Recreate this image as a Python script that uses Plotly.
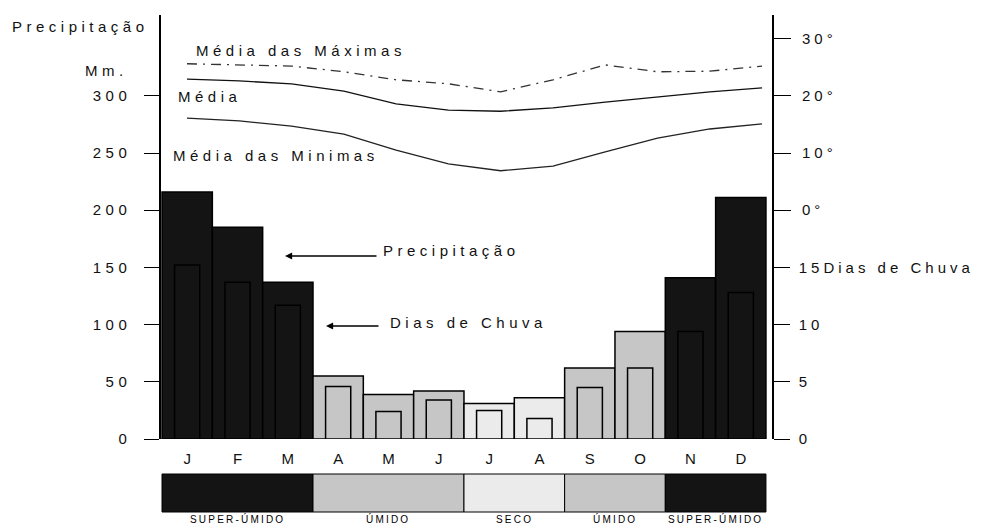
import plotly.graph_objects as go

# ---------------- data ----------------
month_labels = ["J", "F", "M", "A", "M", "J", "J", "A", "S", "O", "N", "D"]
precip_mm = [216, 185, 137, 55, 39, 42, 31, 36, 62, 94, 141, 211]
rain_days = [15.2, 13.7, 11.7, 4.6, 2.4, 3.4, 2.5, 1.8, 4.5, 6.2, 9.4, 12.8]
t_max = [25.6, 25.4, 25.2, 24.2, 22.8, 22.1, 20.7, 22.8, 25.4, 24.2, 24.3, 25.2]
t_mean = [22.9, 22.6, 22.1, 20.8, 18.6, 17.5, 17.3, 17.9, 18.9, 19.8, 20.7, 21.4]
t_min = [16.1, 15.6, 14.7, 13.3, 10.5, 8.1, 6.9, 7.7, 10.2, 12.6, 14.2, 15.1]
humidity_class = ["SUPER-ÚMIDO"] * 3 + ["ÚMIDO"] * 3 + ["SECO"] * 2 + ["ÚMIDO"] * 2 + ["SUPER-ÚMIDO"] * 2

precip_ticks = [0, 50, 100, 150, 200, 250, 300]
days_ticks = [0, 5, 10, 15]
days_tick_text = ["0", "5", "10", "15Dias de Chuva"]
temp_ticks = [0, 10, 20, 30]

class_colors = {"SUPER-ÚMIDO": "#141414", "ÚMIDO": "#c6c6c6", "SECO": "#ebebeb"}

# ---------------- layout geometry (screen pixels; page body has an 8px offset) ----------------
FONT = "Liberation Sans, Arial, sans-serif"
OFF = 8
L, R, T, B = 161, 772, 15, 439
W, H = 990 - OFF, 525 - OFF
MM_TOP = (B - T) / 1.144          # mm value at top of plot
DAYS_TOP = MM_TOP / 10            # days axis = mm / 10
TEMP_LO, TEMP_HI = -40, (MM_TOP - 200) / 5   # temperature axis: mm = 200 + 5*T


def px(p):
    return (p - L) / (R - L)


def py(p):
    return (B - p) / (B - T)


def sp(t, s=4.5):
    return f'<span style="letter-spacing:{s}px">{t}</span>'


x = list(range(len(month_labels)))
bar_colors = [class_colors[c] for c in humidity_class]

fig = go.Figure()

fig.add_trace(go.Bar(
    x=x, y=precip_mm, width=1.0, marker=dict(color=bar_colors, line=dict(color="black", width=1.5)),
    yaxis="y", xaxis="x", showlegend=False, hoverinfo="skip"))

fig.add_trace(go.Bar(
    x=x, y=rain_days, width=0.5, marker=dict(color=bar_colors, line=dict(color="black", width=1.5)),
    yaxis="y2", xaxis="x", showlegend=False, hoverinfo="skip"))

fig.add_trace(go.Scatter(
    x=x, y=t_max, mode="lines", line=dict(color="#333333", width=1.3, dash="10px,6px,2px,6px"),
    xaxis="x2", yaxis="y3", showlegend=False, hoverinfo="skip"))
fig.add_trace(go.Scatter(
    x=x, y=t_mean, mode="lines", line=dict(color="#111111", width=1.3),
    xaxis="x2", yaxis="y3", showlegend=False, hoverinfo="skip"))
fig.add_trace(go.Scatter(
    x=x, y=t_min, mode="lines", line=dict(color="#222222", width=1.3),
    xaxis="x2", yaxis="y3", showlegend=False, hoverinfo="skip"))

shapes = []
annotations = []

# bottom humidity band built from the monthly classes
segments = []
start = 0
for i in range(1, len(humidity_class) + 1):
    if i == len(humidity_class) or humidity_class[i] != humidity_class[start]:
        segments.append((start, i - 1, humidity_class[start]))
        start = i
for s, e, c in segments:
    shapes.append(dict(type="rect", xref="x", yref="paper", x0=s - 0.5, x1=e + 0.5,
                       y0=py(512), y1=py(474), fillcolor=class_colors[c],
                       line=dict(color="black", width=1)))
    annotations.append(dict(xref="x", yref="paper", x=(s + e) / 2, y=py(519), text=sp(c, 2.2),
                            showarrow=False, font=dict(size=10, family=FONT, color="black"),
                            xanchor="center", yanchor="middle"))

texts = [
    ("Precipitação", 10, 27),
    ("Mm.", 83, 70),
    ("Média das Máximas", 194, 51),
    ("Média", 176, 96),
    ("Média das Minimas", 171, 155),
    ("Precipitação", 381, 250),
    ("Dias de Chuva", 388, 322),
]
for t, xx, yy in texts:
    annotations.append(dict(xref="paper", yref="paper", x=px(xx), y=py(yy), text=sp(t),
                            showarrow=False, xanchor="left", yanchor="middle",
                            font=dict(size=15, family=FONT, color="#111111")))

for hx, hy, tail in [(285, 256, 378), (326, 326, 380)]:
    annotations.append(dict(xref="paper", yref="paper", x=px(hx), y=py(hy), text="",
                            showarrow=True, axref="pixel", ayref="pixel", ax=tail - hx, ay=0,
                            arrowhead=2, arrowsize=1.1, arrowwidth=1.3, arrowcolor="black",
                            standoff=0, startstandoff=0))

tickfont = dict(size=15, family=FONT, color="#111111")

fig.update_layout(
    width=W, height=H,
    margin=dict(l=L - OFF, r=W - (R - OFF), t=T - OFF, b=H - (B - OFF), pad=0),
    paper_bgcolor="white", plot_bgcolor="white",
    barmode="overlay",
    font=dict(family=FONT, size=15, color="#111111"),
    xaxis=dict(range=[-0.52, 11.62], tickvals=x, ticktext=month_labels, showgrid=False,
               zeroline=False, showline=False, ticks="", ticklabelstandoff=9, tickfont=tickfont,
               fixedrange=True),
    xaxis2=dict(range=[-0.497, 11.19], overlaying="x", anchor="y", visible=False, fixedrange=True),
    yaxis=dict(range=[0, MM_TOP], tickvals=precip_ticks, ticktext=[sp(str(v)) for v in precip_ticks],
               showgrid=False, zeroline=False, showline=True, linecolor="black", linewidth=1.5,
               ticks="outside", ticklen=15, tickwidth=1.2, tickcolor="black",
               ticklabelstandoff=10, tickfont=tickfont, fixedrange=True),
    yaxis2=dict(range=[0, DAYS_TOP], overlaying="y", side="right", anchor="x",
                tickvals=days_ticks, ticktext=[sp(t, 4) for t in days_tick_text],
                showgrid=False, zeroline=False, showline=True, linecolor="black", linewidth=1.5,
                ticks="outside", ticklen=16, tickwidth=1.2, tickcolor="black",
                ticklabelstandoff=6, tickfont=tickfont, fixedrange=True),
    yaxis3=dict(range=[TEMP_LO, TEMP_HI], overlaying="y", side="right", anchor="x",
                tickvals=temp_ticks, ticktext=[sp(f"{v}°", 4) for v in temp_ticks],
                showgrid=False, zeroline=False, showline=False,
                ticks="outside", ticklen=18, tickwidth=1.2, tickcolor="black",
                ticklabelstandoff=8, tickfont=tickfont, fixedrange=True),
    shapes=shapes,
    annotations=annotations,
)

fig.write_html("out.html")
